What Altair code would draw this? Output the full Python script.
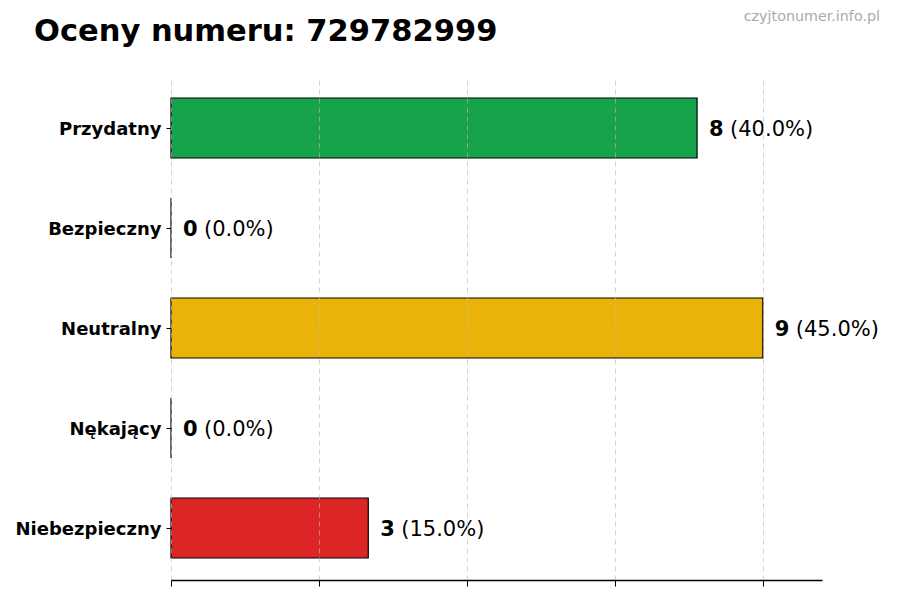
import altair as alt
import pandas as pd

categories = ["Przydatny", "Bezpieczny", "Neutralny", "Nękający", "Niebezpieczny"]
counts = [8, 0, 9, 0, 3]
colors = ["#16a34a", "#6b7280", "#eab308", "#f97316", "#dc2626"]
x_ticks = [0, 2.25, 4.5, 6.75, 9]
x_max = 9.9
title_text = "Oceny numeru: 729782999"
watermark = "czyjtonumer.info.pl"

total = sum(counts)
df = pd.DataFrame({
    "cat": categories,
    "count": counts,
    "color": colors,
    "num": [str(c) for c in counts],
    "pct": [f"({c / total * 100:.1f}%)" for c in counts],
})

FONT = "DejaVu Sans"

y_enc = alt.Y(
    "cat:N",
    sort=categories,
    title=None,
    scale=alt.Scale(paddingInner=0.4, paddingOuter=0.22),
    axis=alt.Axis(
        labelFont=FONT,
        labelFontSize=18,
        labelFontWeight="bold",
        labelColor="black",
        labelPadding=5,
        labelOffset=2,
        tickSize=5,
        tickColor="black",
        domain=False,
        grid=False,
    ),
)

x_scale = alt.Scale(domain=[0, x_max], nice=False, zero=True)

bars = alt.Chart(df).mark_bar(stroke="black", strokeWidth=1.2, cornerRadius=0).encode(
    x=alt.X(
        "count:Q",
        scale=x_scale,
        title=None,
        axis=alt.Axis(
            values=x_ticks,
            labels=False,
            tickSize=6,
            tickColor="black",
            domainColor="black",
            domainWidth=1.3,
            grid=True,
            gridColor="#bbbbbb",
            gridOpacity=0.7,
            gridDash=[5, 4],
            gridWidth=0.9,
            zindex=1,
        ),
    ),
    y=y_enc,
    color=alt.Color("color:N", scale=None, legend=None),
)

num_text = alt.Chart(df).mark_text(
    align="left", baseline="middle", dx=12, dy=1.5, font=FONT, fontSize=21, fontWeight="bold", color="black"
).encode(
    x=alt.X("count:Q", scale=x_scale),
    y=alt.Y("cat:N", sort=categories),
    text="num:N",
)

pct_text = alt.Chart(df).mark_text(
    align="left", baseline="middle", dx=33, dy=1.5, font=FONT, fontSize=21, color="black"
).encode(
    x=alt.X("count:Q", scale=x_scale),
    y=alt.Y("cat:N", sort=categories),
    text="pct:N",
)

title_df = pd.DataFrame({"t": [title_text]})
title_mark = alt.Chart(title_df).mark_text(
    align="left", baseline="alphabetic", font=FONT, fontSize=30.5, fontWeight="bold", color="black"
).encode(x=alt.value(-137), y=alt.value(-35), text="t:N")

wm_df = pd.DataFrame({"t": [watermark]})
wm_mark = alt.Chart(wm_df).mark_text(
    align="right", baseline="alphabetic", font=FONT, fontSize=14.3, color="#aaaaaa"
).encode(x=alt.value(709), y=alt.value(-55), text="t:N")

chart = alt.layer(bars, num_text, pct_text, title_mark, wm_mark).properties(
    width=651,
    height=504,
    autosize=alt.AutoSizeParams(type="none"),
    padding={"left": 163, "top": 68, "right": 70, "bottom": 10},
    background="white",
).configure_view(stroke=None, strokeWidth=0)

chart.save("out.html", embed_options={"renderer": "svg", "actions": False})
